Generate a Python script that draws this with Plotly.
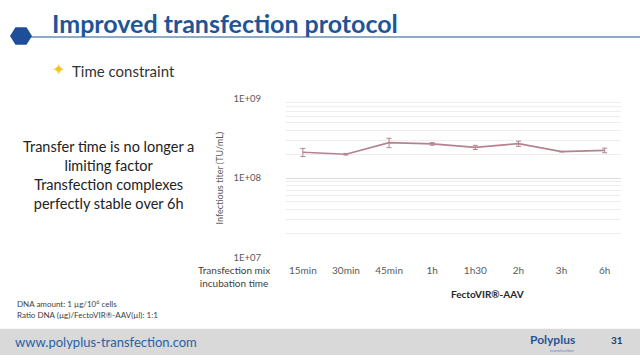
import plotly.graph_objects as go

categories = ["15min", "30min", "45min", "1h", "1h30", "2h", "3h", "6h"]
titer = [2.12e8, 2.0e8, 2.8e8, 2.7e8, 2.44e8, 2.72e8, 2.16e8, 2.24e8]
titer_err = [0.25e8, 0.05e8, 0.38e8, 0.1e8, 0.15e8, 0.2e8, 0.02e8, 0.15e8]
ytick_text = ["1E+07", "1E+08", "1E+09"]

LINE = "#B5838F"
FONT = "Lato"
BLUE = "#1F5596"

fig = go.Figure()
fig.add_trace(go.Scatter(
    x=categories, y=titer, mode="lines",
    line=dict(color=LINE, width=1.6),
    error_y=dict(type="data", array=titer_err, color=LINE, thickness=1, width=2.5),
    showlegend=False,
))

fig.update_layout(
    width=640, height=360,
    margin=dict(l=0, r=0, t=0, b=0),
    paper_bgcolor="white", plot_bgcolor="white",
    font=dict(family=FONT, color="#595959"),
    xaxis=dict(
        domain=[0.447, 0.971], type="category",
        showgrid=False, zeroline=False, showline=False,
        tickfont=dict(size=10, color="#595959"),
        ticks="", ticklabelstandoff=6,
    ),
    yaxis=dict(
        domain=[0.2797, 0.734], type="log", range=[7, 9],
        tick0=0, dtick=1,
        labelalias={"10M": ytick_text[0], "100M": ytick_text[1], "1B": ytick_text[2]},
        tickfont=dict(size=9.5, color="#595959"),
        ticklabelstandoff=24,
        showgrid=True, gridcolor="#DCDCDC", gridwidth=1,
        minor=dict(showgrid=True, dtick="D1", gridcolor="#EDEDED", gridwidth=1, ticks=""),
        zeroline=False, showline=False, ticks="",
        title=dict(text="Infectious titer (TU/mL)", font=dict(size=9, color="#595959"), standoff=8),
    ),
)

shapes = []
shapes.append(dict(type="rect", xref="paper", yref="paper", x0=0, x1=1, y0=0, y1=(360-333)/360,
                   fillcolor="#D9D9D9", line=dict(width=0), layer="below"))
shapes.append(dict(type="line", xref="paper", yref="paper", x0=20/640, x1=1, y0=(360-32)/360, y1=(360-32)/360,
                   line=dict(color=BLUE, width=1.2)))
cx, cy, w, h = 21, 31, 22, 18
pts = [(cx-w/2, cy), (cx-w/4, cy-h/2), (cx+w/4, cy-h/2), (cx+w/2, cy), (cx+w/4, cy+h/2), (cx-w/4, cy+h/2)]
path = "M " + " L ".join(f"{x/640:.4f},{(360-y)/360:.4f}" for x, y in pts) + " Z"
shapes.append(dict(type="path", xref="paper", yref="paper", path=path, fillcolor="#1F4E99", line=dict(width=0)))
fig.update_layout(shapes=shapes)

def ann(text, x, y, size, color="#333333", xanchor="left", yanchor="middle", bold=False, align="left", family=FONT):
    if bold:
        text = f"<b>{text}</b>"
    fig.add_annotation(text=text, x=x/640, y=(360-y)/360, xref="paper", yref="paper",
                       xanchor=xanchor, yanchor=yanchor, showarrow=False, align=align,
                       font=dict(size=size, color=color, family=family))

ann("Improved transfection protocol", 50, 18, 25, color=BLUE, bold=True)
ann("✦", 58, 66, 16, color="#F5C518", xanchor="center", family="DejaVu Sans")
ann("Time constraint", 70, 67, 15, color="#333333")
ann("Transfer time is no longer a<br>limiting factor<br>Transfection complexes<br>perfectly stable over 6h",
    108, 174, 14.5, color="#222222", xanchor="center", align="center")
ann("Transfection mix<br>incubation time", 272, 279, 10, color="#404040", xanchor="right", align="center")
ann("FectoVIR®-AAV", 487, 297, 10, color="#262626", xanchor="center", bold=True)
ann("DNA amount: 1 µg/10<sup>6</sup> cells<br>Ratio DNA (µg)/FectoVIR®-AAV(µl): 1:1", 15, 313, 8, color="#404040", align="left")
ann("www.polyplus-transfection.com", 13, 347, 13, color="#2860A8")
ann("Polyplus", 528, 344, 12, color="#1F5596", bold=True)
ann("transfection", 562, 355, 4.5, color="#6A8AB8", xanchor="center")
ann("31", 617, 345, 10, color="#1F3D6B", xanchor="center", bold=True)

fig.write_html("out.html")
